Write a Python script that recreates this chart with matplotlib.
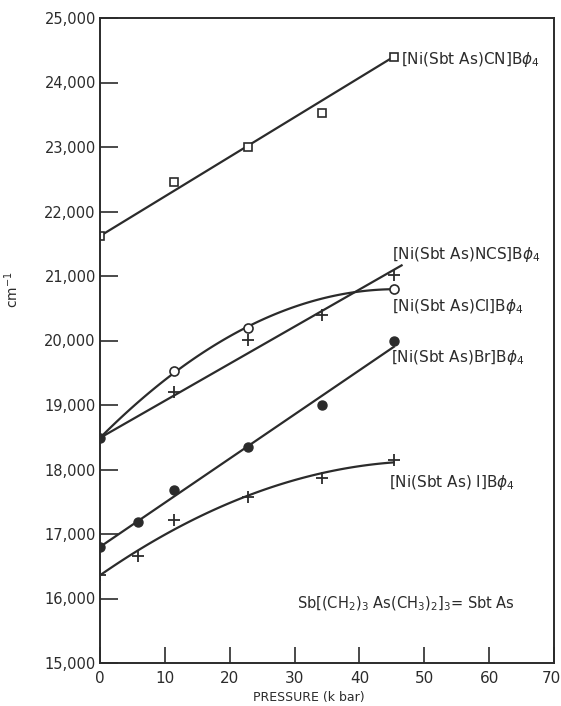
import numpy as np
import matplotlib
matplotlib.use("Agg")
import matplotlib.pyplot as plt
from matplotlib.ticker import FuncFormatter
from matplotlib.transforms import ScaledTranslation

# pressure (k bar) and band positions (cm-1)
p_cn = [0, 11.4, 22.8, 34.2, 45.3]
cn = [21620, 22460, 23000, 23530, 24400]

p_cl = [0, 11.4, 22.8, 45.3]
cl = [18490, 19530, 20190, 20800]

p_ncs = [0, 11.4, 22.8, 34.2, 45.3]
ncs = [18490, 19200, 20010, 20400, 21020]

p_br = [0, 5.8, 11.4, 22.8, 34.2, 45.3]
br = [16800, 17190, 17680, 18350, 19000, 19990]

p_i = [0, 5.8, 11.4, 22.8, 34.2, 45.3]
iod = [16360, 16660, 17220, 17570, 17870, 18150]

labels = {
    "cn": r"$[$Ni(Sbt As)CN$]$B$\phi_4$",
    "ncs": r"$[$Ni(Sbt As)NCS$]$B$\phi_4$",
    "cl": r"$[$Ni(Sbt As)Cl$]$B$\phi_4$",
    "br": r"$[$Ni(Sbt As)Br$]$B$\phi_4$",
    "i": r"$[$Ni(Sbt As) I$]$B$\phi_4$",
}

ink = "#2b2b2b"
plt.rcParams["font.family"] = ["DejaVu Sans"]
plt.rcParams["mathtext.fontset"] = "dejavusans"

fig = plt.figure(figsize=(5.61, 7.06), dpi=100)
ax = fig.add_axes([100 / 561, 1 - 663 / 706, 454 / 561, 645 / 706])


def fit(xs, ys, deg, x1):
    # hand-drawn curves start at the 0 kbar point, so weight it heavily
    w = np.ones(len(xs))
    w[0] = 20
    c = np.polyfit(xs, ys, deg, w=w)
    xx = np.linspace(0, x1, 100)
    return xx, np.polyval(c, xx)


lw = 1.6
# CN: straight line through end points
ax.plot([p_cn[0], p_cn[-1]], [cn[0], cn[-1]], color=ink, lw=lw)
ax.plot(p_cn, cn, ls="none", marker="s", ms=6, mfc="white", mec=ink, mew=1.2)

# Cl: curve
xx, yy = fit(p_cl, cl, 2, p_cl[-1])
ax.plot(xx, yy, color=ink, lw=lw)
ax.plot(p_cl[1:], cl[1:], ls="none", marker="o", ms=6.5, mfc="white", mec=ink, mew=1.2)
# shared starting point (Cl / NCS) drawn filled
ax.plot(p_cl[:1], cl[:1], ls="none", marker="o", ms=6.5, mfc=ink, mec=ink)

# NCS: nearly straight
xx, yy = fit(p_ncs, ncs, 1, 46.5)
ax.plot(xx, yy, color=ink, lw=lw)
ax.plot(p_ncs[1:], ncs[1:], ls="none", marker="+", ms=9, mec=ink, mew=1.3)

# Br
xx, yy = fit(p_br, br, 1, p_br[-1])
ax.plot(xx, yy, color=ink, lw=lw)
ax.plot(p_br, br, ls="none", marker="o", ms=6.5, mfc=ink, mec=ink)

# I: curve
xx, yy = fit(p_i, iod, 2, p_i[-1])
ax.plot(xx, yy, color=ink, lw=lw)
ax.plot(p_i, iod, ls="none", marker="+", ms=9, mec=ink, mew=1.3)

tfs = 11
ax.text(46.4, 24360, labels["cn"], fontsize=tfs, color=ink, va="center")
ax.text(45.0, 21330, labels["ncs"], fontsize=tfs, color=ink, va="center")
ax.text(45.0, 20520, labels["cl"], fontsize=tfs, color=ink, va="center")
ax.text(44.8, 19730, labels["br"], fontsize=tfs, color=ink, va="center")
ax.text(44.6, 17800, labels["i"], fontsize=tfs, color=ink, va="center")
ax.text(30.3, 15915, r"Sb$[$(CH$_2$)$_3$ As(CH$_3$)$_2]_3$= Sbt As",
        fontsize=10.5, color=ink, va="center")

ax.set_xlim(0, 70)
ax.set_ylim(15000, 25000)
ax.set_xticks(range(0, 71, 10))
ax.set_yticks(range(15000, 25001, 1000))
ax.yaxis.set_major_formatter(FuncFormatter(lambda v, _: f"{int(v):,}"))
ax.tick_params(axis="y", direction="in", length=13, width=1.2, pad=3,
               labelsize=10.5, colors=ink)
ax.tick_params(axis="x", direction="in", length=11.5, width=1.2, pad=6,
               labelsize=11, colors=ink)
for s in ax.spines.values():
    s.set_color(ink)
    s.set_linewidth(1.4)

# keep the last x tick label ("70") inside the figure
last = ax.get_xticklabels()[-1]
last.set_transform(last.get_transform() + ScaledTranslation(-3 / 100, 0, fig.dpi_scale_trans))

fig.text(309 / 561, 1 - 697 / 706, "PRESSURE (k bar)", fontsize=9, color=ink,
         ha="center", va="center")
fig.text(12 / 561, 1 - 290 / 706, r"cm$^{-1}$", rotation=90, fontsize=10,
         color=ink, ha="center", va="center")

fig.savefig("out.png", dpi=100)
